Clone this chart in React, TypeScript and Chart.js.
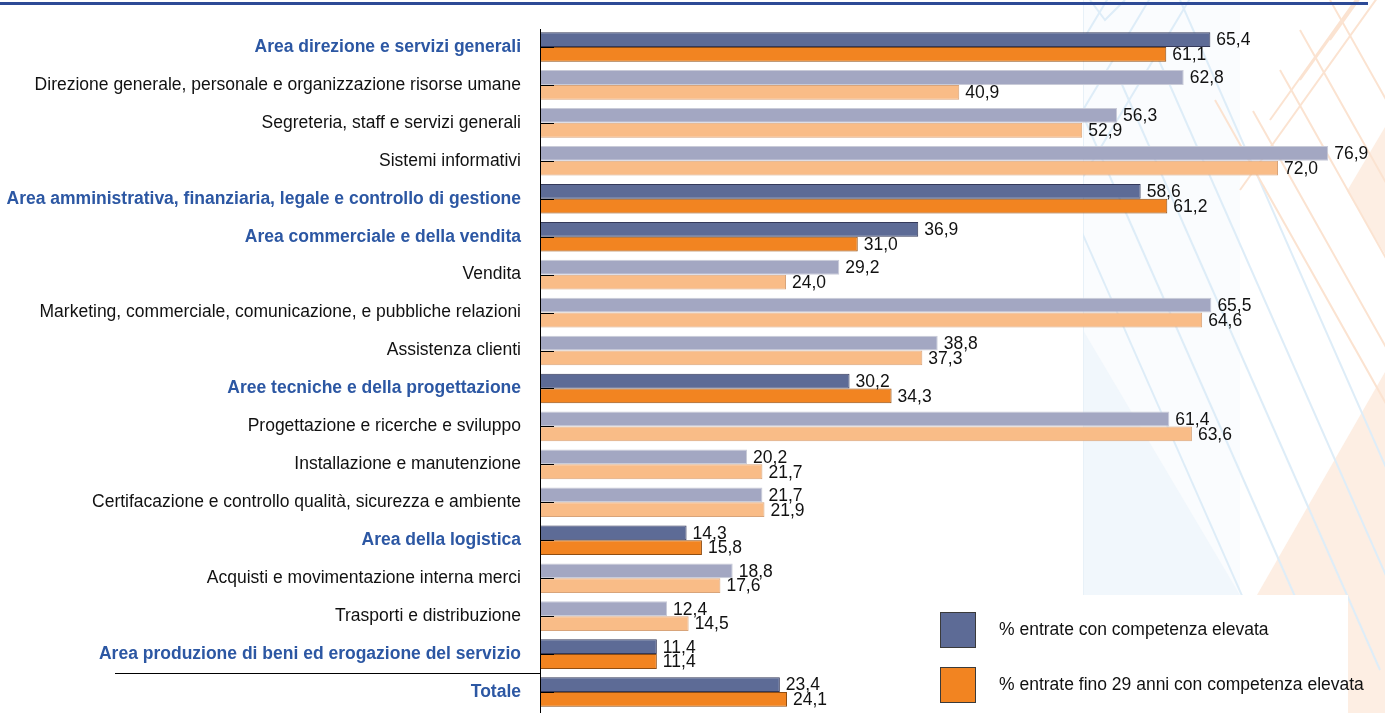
import React, { useEffect, useRef } from "react";
import { Chart, registerables } from "chart.js";

Chart.register(...registerables);

const categories = [
  "Area direzione e servizi generali",
  "Direzione generale, personale e organizzazione risorse umane",
  "Segreteria, staff e servizi generali",
  "Sistemi informativi",
  "Area amministrativa, finanziaria, legale e controllo di gestione",
  "Area commerciale e della vendita",
  "Vendita",
  "Marketing, commerciale, comunicazione, e pubbliche relazioni",
  "Assistenza clienti",
  "Aree tecniche e della progettazione",
  "Progettazione e ricerche e sviluppo",
  "Installazione e manutenzione",
  "Certifacazione e controllo qualità, sicurezza e ambiente",
  "Area della logistica",
  "Acquisti e movimentazione interna merci",
  "Trasporti e distribuzione",
  "Area produzione di beni ed erogazione del servizio",
  "Totale",
];

const isHeader = [
  true, false, false, false, true, true, false, false, false,
  true, false, false, false, true, false, false, true, true,
];

const seriesHigh = [65.4, 62.8, 56.3, 76.9, 58.6, 36.9, 29.2, 65.5, 38.8, 30.2, 61.4, 20.2, 21.7, 14.3, 18.8, 12.4, 11.4, 23.4];
const seriesYoung = [61.1, 40.9, 52.9, 72.0, 61.2, 31.0, 24.0, 64.6, 37.3, 34.3, 63.6, 21.7, 21.9, 15.8, 17.6, 14.5, 11.4, 24.1];

const seriesNames = [
  "% entrate con competenza elevata",
  "% entrate fino 29 anni con competenza elevata",
];

const DARK_BLUE = "#5d6b96";
const LIGHT_BLUE = "#a3a7c2";
const DARK_ORANGE = "#f28421";
const LIGHT_ORANGE = "#f9bc87";
const HEADER_TEXT = "#2c57a3";
const FONT = "'Liberation Sans', Arial, sans-serif";
const FONT_SIZE = 17.5;

const fmt = (v: number) => v.toFixed(1).replace(".", ",");

const decorPlugin = {
  id: "decor",
  beforeDraw(chart: any) {
    const { ctx, width, height } = chart;
    ctx.save();
    ctx.fillStyle = "#ffffff";
    ctx.fillRect(0, 0, width, height);

    ctx.save();
    ctx.beginPath();
    ctx.rect(1083, 0, width - 1083, height);
    ctx.clip();

    // faint blue panel
    ctx.fillStyle = "#fafcfe";
    ctx.fillRect(1083, 0, 157, 595);
    ctx.fillStyle = "#f1f7fc";
    ctx.beginPath();
    ctx.moveTo(1083, 330);
    ctx.lineTo(1083, 595);
    ctx.lineTo(1240, 595);
    ctx.closePath();
    ctx.fill();
    ctx.strokeStyle = "#e8f1f8";
    ctx.lineWidth = 1;
    ctx.beginPath();
    ctx.moveTo(1083.5, 0);
    ctx.lineTo(1083.5, 595);
    ctx.stroke();

    // orange fills
    ctx.fillStyle = "#fdeee3";
    ctx.beginPath();
    ctx.moveTo(1257, 595);
    ctx.lineTo(1385, 372);
    ctx.lineTo(1385, 713);
    ctx.lineTo(1257, 713);
    ctx.closePath();
    ctx.fill();
    ctx.beginPath();
    ctx.moveTo(1347, 191);
    ctx.lineTo(1385, 127);
    ctx.lineTo(1385, 254);
    ctx.closePath();
    ctx.fill();

    // blue stripes
    ctx.strokeStyle = "#deedf8";
    ctx.lineWidth = 2;
    const blueDown = [[1050, 160], [1085, 120], [1120, 80], [1150, 40], [1180, 0]];
    blueDown.forEach(([x, y]) => {
      ctx.beginPath();
      ctx.moveTo(x, y);
      ctx.lineTo(x + 260, y + 590);
      ctx.stroke();
    });
    const blueUp = [[1083, 177], [1083, 110], [1083, 40], [1110, 0]];
    blueUp.forEach(([x, y]) => {
      ctx.beginPath();
      ctx.moveTo(x, y);
      ctx.lineTo(x + 180, y - 300);
      ctx.stroke();
    });
    ctx.beginPath();
    ctx.moveTo(1090, 0);
    ctx.lineTo(1105, 20);
    ctx.lineTo(1125, 0);
    ctx.stroke();

    // orange stripes
    ctx.strokeStyle = "#fbe3d1";
    ctx.lineWidth = 2;
    const orDown = [[1215, 100], [1253, 111], [1280, 70], [1300, 30], [1330, 0]];
    orDown.forEach(([x, y]) => {
      ctx.beginPath();
      ctx.moveTo(x, y);
      ctx.lineTo(x + 290, y + 515);
      ctx.stroke();
    });
    const orUp = [[1240, 190], [1270, 120], [1300, 80], [1330, 40]];
    orUp.forEach(([x, y]) => {
      ctx.beginPath();
      ctx.moveTo(x, y);
      ctx.lineTo(x + 200, y - 280);
      ctx.stroke();
    });
    ctx.restore();

    // white legend panel
    ctx.fillStyle = "#ffffff";
    ctx.fillRect(880, 595, 468, 118);

    // top rule
    ctx.fillStyle = "#2d4a96";
    ctx.fillRect(0, 2, 1368, 3);
    ctx.restore();
  },
};

const overlayPlugin = {
  id: "overlay",
  afterDatasetsDraw(chart: any) {
    const { ctx, chartArea, scales } = chart;
    const yScale = scales.y;
    ctx.save();
    // value labels
    ctx.font = `${FONT_SIZE}px ${FONT}`;
    ctx.fillStyle = "#111111";
    ctx.textAlign = "left";
    ctx.textBaseline = "middle";
    chart.data.datasets.forEach((ds: any, di: number) => {
      const meta = chart.getDatasetMeta(di);
      meta.data.forEach((el: any, i: number) => {
        ctx.fillText(fmt(ds.data[i]), el.x + 6, el.y + 1);
      });
    });

    // axis line
    ctx.strokeStyle = "#000000";
    ctx.lineWidth = 1;
    ctx.beginPath();
    ctx.moveTo(chartArea.left + 0.5, chartArea.top + 1);
    ctx.lineTo(chartArea.left + 0.5, chart.height);
    ctx.stroke();

    // tick marks at category centres
    categories.forEach((_, i) => {
      const y = Math.round(yScale.getPixelForValue(i)) + 0.5;
      ctx.beginPath();
      ctx.moveTo(chartArea.left, y);
      ctx.lineTo(chartArea.left + 14, y);
      ctx.stroke();
    });

    // separator before Totale
    const sepY = Math.round((yScale.getPixelForValue(categories.length - 2) + yScale.getPixelForValue(categories.length - 1)) / 2) + 0.5;
    ctx.beginPath();
    ctx.moveTo(115, sepY);
    ctx.lineTo(chartArea.left, sepY);
    ctx.stroke();

    // legend
    const items = [
      { label: seriesNames[0], color: DARK_BLUE, y: 612 },
      { label: seriesNames[1], color: DARK_ORANGE, y: 667 },
    ];
    items.forEach((it) => {
      ctx.fillStyle = it.color;
      ctx.fillRect(940, it.y, 36, 36);
      ctx.strokeStyle = "#3a3a3a";
      ctx.strokeRect(940.5, it.y + 0.5, 35, 35);
      ctx.fillStyle = "#111111";
      ctx.font = `${FONT_SIZE}px ${FONT}`;
      ctx.textBaseline = "middle";
      ctx.fillText(it.label, 999, it.y + 18);
    });
    ctx.restore();
  },
};

export default function App() {
  const canvasRef = useRef<HTMLCanvasElement | null>(null);

  useEffect(() => {
    if (!canvasRef.current) return;
    const chart = new Chart(canvasRef.current, {
      type: "bar",
      data: {
        labels: categories,
        datasets: [
          {
            label: seriesNames[0],
            data: seriesHigh,
            backgroundColor: isHeader.map((h) => (h ? DARK_BLUE : LIGHT_BLUE)),
            borderColor: isHeader.map((h) => (h ? "#34395a" : "#c9cbd8")),
            borderWidth: 1,
            borderSkipped: "start",
            categoryPercentage: 0.78,
            barPercentage: 1,
          },
          {
            label: seriesNames[1],
            data: seriesYoung,
            backgroundColor: isHeader.map((h) => (h ? DARK_ORANGE : LIGHT_ORANGE)),
            borderColor: isHeader.map((h) => (h ? "#8f4d12" : "#d8a47a")),
            borderWidth: 1,
            borderSkipped: "start",
            categoryPercentage: 0.78,
            barPercentage: 1,
          },
        ],
      },
      options: {
        indexAxis: "y",
        animation: false,
        responsive: true,
        maintainAspectRatio: false,
        layout: { padding: { top: 28, bottom: 2, left: 0, right: 25 } },
        plugins: {
          legend: { display: false },
          tooltip: { enabled: false },
        },
        scales: {
          x: {
            display: false,
            min: 0,
            max: 80,
          },
          y: {
            type: "category",
            grid: { display: false, drawTicks: false },
            border: { display: false },
            afterFit: (scale: any) => {
              scale.width = 540;
              scale.paddingTop = 0;
              scale.paddingBottom = 0;
            },
            ticks: {
              padding: 19,
              autoSkip: false,
              color: (c: any) => (isHeader[c.index] ? HEADER_TEXT : "#111111"),
              font: (c: any) => ({
                family: FONT,
                size: FONT_SIZE,
                weight: isHeader[c.index] ? "bold" : "normal",
              }),
            },
          },
        },
      },
      plugins: [decorPlugin, overlayPlugin],
    });
    return () => chart.destroy();
  }, []);

  return (
    <div style={{ position: "fixed", left: 0, top: 0, width: 1385, height: 713 }}>
      <canvas ref={canvasRef} />
    </div>
  );
}
